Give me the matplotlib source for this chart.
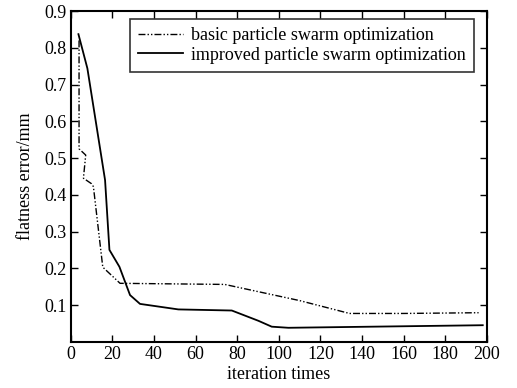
import matplotlib
matplotlib.use('Agg')
import matplotlib.pyplot as plt

plt.rcParams['font.family'] = ['Liberation Serif', 'DejaVu Serif']
plt.rcParams['font.size'] = 13

# basic particle swarm optimization
basic_x = [4, 4, 7.2, 6.1, 10, 10.9, 15.4, 23.7, 74, 110, 134, 160, 196]
basic_y = [0.82, 0.525, 0.508, 0.445, 0.43, 0.422, 0.203, 0.159, 0.156, 0.112, 0.077, 0.077, 0.079]

# improved particle swarm optimization
imp_x = [3.7, 8, 16.5, 18.6, 23.4, 28.5, 33.3, 51.7, 77.4, 90.2, 96.6, 104.6, 198]
imp_y = [0.837, 0.744, 0.44, 0.25, 0.204, 0.127, 0.103, 0.088, 0.085, 0.057, 0.041, 0.038, 0.045]

xticks = list(range(0, 201, 20))
yticks = [0.1, 0.2, 0.3, 0.4, 0.5, 0.6, 0.7, 0.8, 0.9]

fig = plt.figure(figsize=(5.17, 3.88), dpi=100)
ax = fig.add_axes([0.1368, 0.1192, 0.805, 0.8524])

ax.plot(basic_x, basic_y, color='black', lw=1.0,
        linestyle=(0, (5, 1.5, 1, 1.5, 1, 1.5)), label='basic particle swarm optimization')
ax.plot(imp_x, imp_y, color='black', lw=1.3, label='improved particle swarm optimization')

ax.set_xlim(0, 200)
ax.set_ylim(0, 0.9)
ax.set_xticks(xticks)
ax.set_yticks(yticks)
ax.set_yticklabels([str(v) for v in yticks])
ax.tick_params(direction='in', top=True, right=True, length=5, width=1, pad=3)
for s in ax.spines.values():
    s.set_linewidth(1.5)

ax.set_xlabel('iteration times', labelpad=2)
ax.set_ylabel('flatness error/mm', labelpad=7)

leg = ax.legend(loc='upper right', bbox_to_anchor=(0.969, 0.976), frameon=True, fancybox=False,
                edgecolor='black', handlelength=2.5, handletextpad=0.45, borderpad=0.45,
                labelspacing=0.15, borderaxespad=0)
leg.get_frame().set_linewidth(1.2)

fig.savefig('out.png', dpi=100)
